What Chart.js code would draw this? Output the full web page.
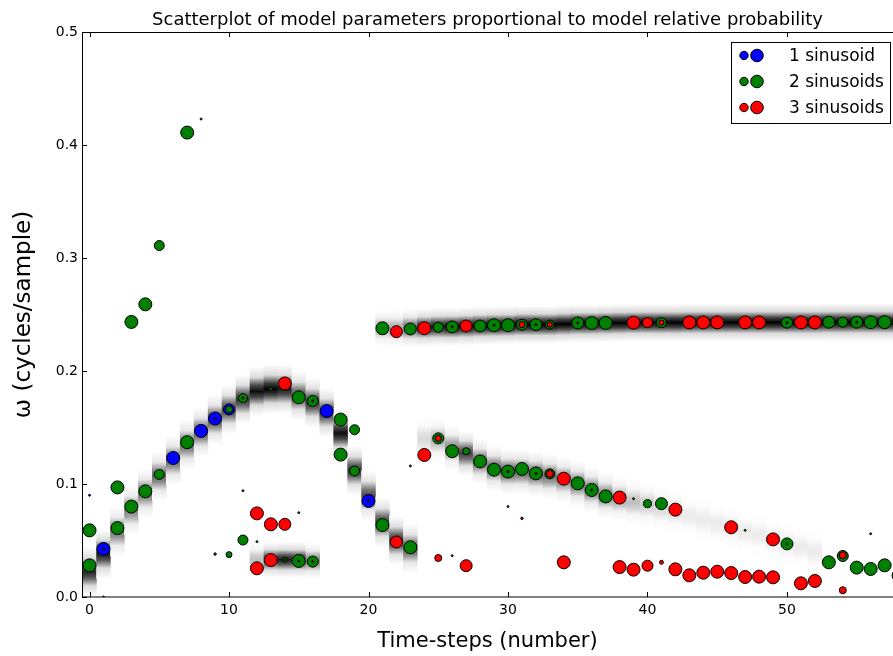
<!DOCTYPE html>
<html>
<head>
<meta charset="utf-8">
<script src="https://cdn.jsdelivr.net/npm/chart.js@4.4.0/dist/chart.umd.min.js"></script>
<style>
html, body { margin: 0; padding: 0; background: #fff; }
</style>
</head>
<body>
<canvas id="chart" width="893" height="656"></canvas>
<script>
// posterior points: time step, frequency, relative probability
const blueT = [1, 6, 8, 9, 10, 17, 20, 1, 0];
const blueW = [0.0425, 0.123, 0.147, 0.158, 0.166, 0.1646, 0.085, 0.0, 0.09];
const blueP = [0.86, 0.86, 0.86, 0.86, 0.62, 0.86, 0.86, 0.02, 0.02];

const greenT = [0, 0, 2, 2, 3, 4, 5, 7, 10, 11, 13, 15, 16, 18, 19, 18, 19, 21, 23, 11, 10, 14, 15, 16,
  3, 4, 5, 7,
  25, 26, 27, 28, 29, 30, 31, 32, 33, 35, 36, 37, 40, 41, 50, 53, 54, 55, 56, 57, 58,
  21, 23, 25, 26, 28, 29, 30, 31, 32, 33, 35, 36, 37, 41, 50, 53, 54, 55, 56, 57, 58,
  8, 11, 23, 26, 30, 39, 47, 56, 12, 15, 9];
const greenW = [0.059, 0.028, 0.097, 0.061, 0.080, 0.0935, 0.1085, 0.137, 0.166, 0.176, 0.184, 0.1767, 0.1735, 0.157, 0.148, 0.126, 0.1115, 0.0637, 0.044, 0.0504, 0.0375, 0.033, 0.0319, 0.0313,
  0.2434, 0.259, 0.311, 0.411,
  0.1404, 0.129, 0.129, 0.120, 0.1127, 0.111, 0.1133, 0.1094, 0.109, 0.1006, 0.0947, 0.089, 0.0826, 0.0826, 0.047, 0.0307, 0.0363, 0.026, 0.0248, 0.028, 0.019,
  0.2378, 0.2372, 0.2387, 0.239, 0.2398, 0.2405, 0.2405, 0.241, 0.241, 0.241, 0.2425, 0.2425, 0.2425, 0.2428, 0.2428, 0.2432, 0.2432, 0.2432, 0.2432, 0.2432, 0.2432,
  0.423, 0.094, 0.116, 0.0366, 0.08, 0.087, 0.059, 0.056, 0.049, 0.0746, 0.038];
const greenP = [0.86, 0.86, 0.86, 0.86, 0.86, 0.86, 0.51, 0.86, 0.25, 0.41, 0.05, 0.86, 0.62, 0.86, 0.51, 0.86, 0.51, 0.86, 0.86, 0.51, 0.18, 0.13, 0.86, 0.62,
  0.86, 0.86, 0.51, 0.86,
  0.62, 0.86, 0.25, 0.86, 0.86, 0.86, 0.86, 0.86, 0.51, 0.86, 0.86, 0.86, 0.33, 0.73, 0.73, 0.86, 0.62, 0.86, 0.86, 0.86, 0.86,
  0.86, 0.73, 0.51, 0.73, 0.73, 0.86, 0.86, 0.62, 0.73, 0.41, 0.73, 0.86, 0.86, 0.51, 0.62, 0.73, 0.51, 0.73, 0.86, 0.86, 0.86,
  0.02, 0.02, 0.02, 0.02, 0.02, 0.02, 0.02, 0.02, 0.02, 0.02, 0.03];

const redT = [12, 13, 14, 12, 13, 14, 22, 24, 25, 25, 27, 33, 34, 34, 38, 42, 46, 49, 54, 54,
  38, 39, 40, 41, 42, 43, 44, 45, 46, 47, 48, 49, 51, 52,
  22, 24, 27, 31, 33, 39, 40, 41, 43, 44, 45, 47, 48, 51, 52,
  31, 1, 9, 11, 16, 15, 16, 20, 26, 29, 32, 35, 50, 50, 32, 36, 30, 55, 14];
const redW = [0.074, 0.0643, 0.0643, 0.0254, 0.0327, 0.189, 0.0487, 0.1257, 0.1404, 0.0345, 0.0277, 0.109, 0.1047, 0.0307, 0.088, 0.0773, 0.0617, 0.051, 0.037, 0.006,
  0.0265, 0.0242, 0.0277, 0.0307, 0.0245, 0.0192, 0.0215, 0.0224, 0.0212, 0.0177, 0.018, 0.0174, 0.0121, 0.0142,
  0.2348, 0.2378, 0.2398, 0.241, 0.241, 0.2428, 0.2428, 0.2428, 0.243, 0.243, 0.243, 0.243, 0.243, 0.243, 0.243,
  0.0696, 0.0425, 0.158, 0.176, 0.1735, 0.0319, 0.0313, 0.085, 0.239, 0.2405, 0.241, 0.2425, 0.2428, 0.047, 0.1094, 0.0947, 0.111, 0.2432, 0.033];
const redP = [0.86, 0.86, 0.73, 0.86, 0.86, 0.86, 0.73, 0.86, 0.18, 0.25, 0.73, 0.25, 0.86, 0.86, 0.86, 0.86, 0.86, 0.86, 0.25, 0.25,
  0.86, 0.86, 0.62, 0.08, 0.86, 0.86, 0.86, 0.86, 0.86, 0.86, 0.86, 0.86, 0.86, 0.86,
  0.73, 0.86, 0.73, 0.18, 0.13, 0.86, 0.51, 0.13, 0.86, 0.86, 0.86, 0.86, 0.86, 0.86, 0.86,
  0.03, 0.02, 0.02, 0.02, 0.02, 0.02, 0.02, 0.02, 0.02, 0.02, 0.02, 0.02, 0.02, 0.02, 0.02, 0.02, 0.02, 0.02, 0.02];

// background density: one column per time step, centre frequency and darkness
const chirpT = [0, 1, 2, 3, 4, 5, 6, 7, 8, 9, 10, 11, 12, 13, 14, 15, 16, 17, 18, 19, 20, 21, 22, 23];
const chirpW = [0.022, 0.038, 0.058, 0.077, 0.092, 0.107, 0.121, 0.135, 0.146, 0.157, 0.166, 0.175, 0.182, 0.184, 0.184, 0.178, 0.172, 0.163, 0.145, 0.112, 0.09, 0.066, 0.05, 0.043];
const chirpD = [0.85, 0.9, 0.55, 0.5, 0.55, 0.6, 0.6, 0.6, 0.65, 0.7, 0.75, 0.8, 0.95, 1.0, 0.9, 0.7, 0.8, 0.75, 0.95, 0.8, 0.7, 0.75, 0.8, 0.65];

const topT = [21, 22, 23, 24, 25, 26, 27, 28, 29, 30, 31, 32, 33, 34, 35, 36, 37, 38, 39, 40, 41, 42, 43, 44, 45, 46, 47, 48, 49, 50, 51, 52, 53, 54, 55, 56, 57, 58];
const topW = [0.238, 0.2375, 0.238, 0.2385, 0.239, 0.239, 0.2395, 0.24, 0.2403, 0.2405, 0.241, 0.241, 0.241, 0.2415, 0.242, 0.242, 0.2423, 0.2425, 0.2427, 0.2428, 0.2428, 0.2428, 0.243, 0.243, 0.243, 0.243, 0.243, 0.243, 0.243, 0.243, 0.243, 0.243, 0.2432, 0.2432, 0.2432, 0.2432, 0.2432, 0.2432];
const topD = [0.3, 0.35, 0.6, 0.85, 0.9, 0.95, 0.95, 0.95, 1, 1, 1, 1, 1, 1, 1, 1, 1, 1, 1, 1, 1, 1, 1, 1, 1, 1, 1, 1, 1, 1, 1, 1, 1, 1, 1, 1, 1, 1];

const decayT = [24, 25, 26, 27, 28, 29, 30, 31, 32, 33, 34, 35, 36, 37, 38, 39, 40, 41, 42, 43, 44, 45, 46, 47, 48, 49, 50, 51, 52];
const decayW = [0.14, 0.139, 0.132, 0.127, 0.12, 0.114, 0.111, 0.111, 0.109, 0.107, 0.104, 0.1, 0.095, 0.09, 0.087, 0.084, 0.082, 0.079, 0.076, 0.072, 0.068, 0.065, 0.062, 0.058, 0.055, 0.051, 0.047, 0.044, 0.04];
const decayD = [0.15, 0.3, 0.45, 0.75, 0.6, 0.6, 0.65, 0.6, 0.6, 0.55, 0.5, 0.55, 0.55, 0.5, 0.35, 0.25, 0.2, 0.15, 0.12, 0.08, 0.08, 0.08, 0.08, 0.08, 0.08, 0.08, 0.08, 0.08, 0.08];

const lowT = [12, 13, 14, 15, 16];
const lowW = [0.033, 0.033, 0.033, 0.033, 0.032];
const lowD = [0.25, 0.8, 0.9, 0.85, 0.5];

const xTicks = [0, 10, 20, 30, 40, 50];
const yTicks = [0, 0.1, 0.2, 0.3, 0.4, 0.5];

Chart.defaults.font.family = 'DejaVu Sans';
Chart.defaults.color = '#000';

function grey(a) {
  const v = Math.round(255 * (1 - a));
  return 'rgb(' + v + ',' + v + ',' + v + ')';
}

function shade(darkness) {
  return function (c) {
    if (c.type !== 'data' || !c.raw) return 'rgba(0,0,0,0)';
    const y = c.chart.scales.y;
    const top = y.getPixelForValue(c.raw.y[1]);
    const bot = y.getPixelForValue(c.raw.y[0]);
    const a = darkness[c.dataIndex];
    if (!isFinite(top) || !isFinite(bot) || top === bot) return grey(a * 0.5);
    const g = c.chart.ctx.createLinearGradient(0, top, 0, bot);
    g.addColorStop(0, grey(0));
    g.addColorStop(0.22, grey(a * 0.15));
    g.addColorStop(0.38, grey(a * 0.75));
    g.addColorStop(0.5, grey(a));
    g.addColorStop(0.62, grey(a * 0.75));
    g.addColorStop(0.78, grey(a * 0.15));
    g.addColorStop(1, grey(0));
    return g;
  };
}

function band(ts, ws, ds, half) {
  return {
    type: 'bar',
    data: ts.map((t, i) => ({ x: t, y: [ws[i] - half, ws[i] + half] })),
    backgroundColor: shade(ds),
    borderWidth: 0,
    inflateAmount: 0,
    barPercentage: 1.04,
    categoryPercentage: 1,
    grouped: false,
    order: 10
  };
}

function points(label, colour, ts, ws, ps, order) {
  return {
    type: 'scatter',
    label: label,
    data: ts.map((t, i) => ({ x: t, y: ws[i] })),
    pointRadius: ps.map(p => 7 * Math.sqrt(p)),
    pointBackgroundColor: colour,
    pointBorderColor: '#000',
    pointBorderWidth: 1,
    order: order
  };
}

const frame = {
  id: 'frame',
  afterDatasetsDraw(chart) {
    const { ctx, chartArea: a, scales: { x, y } } = chart;
    ctx.save();
    ctx.strokeStyle = '#000';
    ctx.lineWidth = 1;
    ctx.beginPath();
    ctx.rect(a.left + 0.5, a.top + 0.5, a.right - a.left, a.bottom - a.top - 0.5);
    for (const v of xTicks) {
      const px = Math.round(x.getPixelForValue(v)) + 0.5;
      ctx.moveTo(px, a.bottom); ctx.lineTo(px, a.bottom - 5);
      ctx.moveTo(px, a.top); ctx.lineTo(px, a.top + 5);
    }
    for (const v of yTicks) {
      const py = Math.round(y.getPixelForValue(v)) + 0.5;
      ctx.moveTo(a.left, py); ctx.lineTo(a.left + 5, py);
    }
    ctx.stroke();
    ctx.restore();
  }
};

const legendBox = {
  id: 'legendBox',
  afterDraw(chart) {
    const ctx = chart.ctx;
    const rows = [['#0000ff', '1 sinusoid'], ['#008000', '2 sinusoids'], ['#ff0000', '3 sinusoids']];
    ctx.save();
    ctx.fillStyle = '#fff';
    ctx.strokeStyle = '#000';
    ctx.lineWidth = 1;
    ctx.fillRect(731.5, 42.5, 159, 81);
    ctx.strokeRect(731.5, 42.5, 159, 81);
    ctx.font = '17px "DejaVu Sans"';
    ctx.textBaseline = 'middle';
    rows.forEach((r, i) => {
      const cy = 55.5 + i * 26;
      ctx.fillStyle = r[0];
      ctx.beginPath(); ctx.arc(744, cy, 4.2, 0, Math.PI * 2); ctx.fill(); ctx.stroke();
      ctx.beginPath(); ctx.arc(757, cy, 6.3, 0, Math.PI * 2); ctx.fill(); ctx.stroke();
      ctx.fillStyle = '#000';
      ctx.fillText(r[1], 789, cy + 1);
    });
    ctx.restore();
  }
};

new Chart(document.getElementById('chart'), {
  type: 'scatter',
  data: {
    datasets: [
      band(chirpT, chirpW, chirpD, 0.022),
      band(topT, topW, topD, 0.017),
      band(decayT, decayW, decayD, 0.02),
      band(lowT, lowW, lowD, 0.016),
      points('1 sinusoid', '#0000ff', blueT, blueW, blueP, 3),
      points('2 sinusoids', '#008000', greenT, greenW, greenP, 2),
      points('3 sinusoids', '#ff0000', redT, redW, redP, 1)
    ]
  },
  options: {
    responsive: false,
    animation: false,
    layout: { padding: 0, autoPadding: false },
    plugins: {
      legend: { display: false },
      tooltip: { enabled: false },
      title: {
        display: true,
        fullSize: false,
        text: 'Scatterplot of model parameters proportional to model relative probability',
        font: { size: 18, weight: 'normal' },
        color: '#000',
        padding: { top: 10, bottom: 0.4 }
      }
    },
    scales: {
      x: {
        type: 'linear',
        min: -0.54,
        max: 57.6,
        offset: false,
        afterFit(s) { s.height = 59; s.paddingLeft = 0; s.paddingRight = 0; },
        afterBuildTicks(s) { s.ticks = xTicks.map(v => ({ value: v })); },
        grid: { display: false, offset: false, drawTicks: false },
        border: { display: false },
        ticks: { font: { size: 14 }, color: '#000', padding: 5, maxRotation: 0 },
        title: { display: true, text: 'Time-steps (number)', font: { size: 21 }, color: '#000', padding: { top: 0, bottom: 2 } }
      },
      y: {
        type: 'linear',
        min: 0,
        max: 0.5,
        afterFit(s) { s.width = 82; },
        afterBuildTicks(s) { s.ticks = yTicks.map(v => ({ value: v })); },
        grid: { display: false, drawTicks: false },
        border: { display: false },
        ticks: { font: { size: 14 }, color: '#000', padding: 4, callback: v => v.toFixed(1) },
        title: { display: true, text: 'ω (cycles/sample)', font: { size: 23 }, color: '#000', padding: { top: 10, bottom: 0 } }
      }
    }
  },
  plugins: [frame, legendBox]
});
</script>
</body>
</html>
